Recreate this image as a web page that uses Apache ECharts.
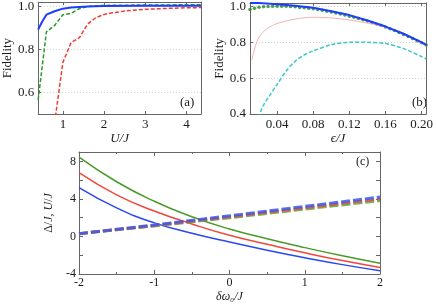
<!DOCTYPE html>
<html><head><meta charset="utf-8">
<script src="https://cdn.jsdelivr.net/npm/echarts@6/dist/echarts.min.js"></script>
<style>html,body{margin:0;padding:0;background:#fff}#c{width:436px;height:304px}</style>
</head><body><div id="c"></div>
<script>
// ---- Panel (a): Fidelity vs U/J ----
const aBlueX  = [0.4, 0.5, 0.6, 0.8, 1.0, 1.2, 1.4, 1.6, 2.0, 3.0, 4.35];
const aBlueY  = [0.893, 0.93, 0.962, 0.978, 0.99, 0.995, 0.998, 1.0, 1.002, 1.003, 1.003];
const aGreenX = [0.4, 0.6, 0.8, 1.0, 1.2, 1.4, 1.6, 1.8, 2.0, 3.0, 4.35];
const aGreenY = [0.565, 0.882, 0.912, 0.962, 0.968, 0.99, 1.0, 1.003, 1.005, 1.007, 1.008];
const aRedX   = [0.8, 1.0, 1.2, 1.4, 1.6, 1.8, 2.0, 2.2, 2.6, 3.0, 3.5, 4.0, 4.35];
const aRedY   = [0.46, 0.74, 0.832, 0.855, 0.918, 0.948, 0.963, 0.971, 0.981, 0.987, 0.991, 0.994, 0.995];
const aXTicks = [1, 2, 3, 4];
const aYLabels = [0.6, 0.8, 1.0];

// ---- Panel (b): Fidelity vs epsilon/J ----
const bBlueX = [0.01, 0.02, 0.04, 0.06, 0.08, 0.10, 0.12, 0.14, 0.16, 0.18, 0.20, 0.205];
const bBlueY = [1.02, 1.019, 1.013, 1.004, 0.993, 0.974, 0.952, 0.922, 0.888, 0.848, 0.8, 0.786];
const bGreenX = [0.010,0.015,0.020,0.025,0.030,0.035,0.040,0.045,0.050,0.055,0.060,0.065,0.070,0.075,0.080,0.085,0.090,0.095,0.100,0.105,0.110,0.115,0.120,0.125,0.130,0.135,0.140,0.145,0.150,0.155,0.160,0.165,0.170,0.175,0.180,0.185,0.190,0.195,0.200,0.205];
const bGreenY = [0.983,0.99,0.996,0.999,1.0,1.002,1.002,1.002,1.001,1.0,0.998,0.995,0.993,0.99,0.987,0.983,0.979,0.974,0.969,0.964,0.958,0.952,0.946,0.94,0.933,0.926,0.919,0.911,0.903,0.895,0.886,0.876,0.866,0.855,0.844,0.833,0.821,0.809,0.797,0.785];
const bPinkX = [0.012, 0.016, 0.02, 0.024, 0.03, 0.04, 0.06, 0.08, 0.10, 0.12, 0.14, 0.16, 0.18, 0.20, 0.205];
const bPinkY = [0.70, 0.78, 0.83, 0.855, 0.88, 0.905, 0.93, 0.94, 0.936, 0.925, 0.907, 0.885, 0.85, 0.795, 0.776];
const bCyanX = [0.019, 0.025, 0.03, 0.04, 0.05, 0.06, 0.07, 0.08, 0.10, 0.12, 0.14, 0.16, 0.18, 0.20, 0.205];
const bCyanY = [0.38, 0.45, 0.49, 0.565, 0.64, 0.694, 0.73, 0.752, 0.787, 0.80, 0.80, 0.793, 0.765, 0.72, 0.708];
const bXTicks = [0.04, 0.08, 0.12, 0.16, 0.20];
const bYLabels = [0.4, 0.6, 0.8, 1.0];

// ---- Panel (c): Delta/J, U/J vs delta omega_0 / J ----
const cX = [-2, -1.5, -1, -0.5, 0, 0.5, 1, 1.5, 2];
const cGreenSolid = [8.45, 5.83, 3.75, 2.1, 0.79, -0.25, -1.19, -2.06, -2.85];
const cRedSolid   = [6.8, 4.44, 2.71, 1.33, 0.12, -0.83, -1.74, -2.57, -3.3];
const cBlueSolid  = [5.21, 3.05, 1.45, 0.35, -0.59, -1.46, -2.26, -3.0, -3.65];
const cXd = [-2, -1, 0, 1, 2];
const cGreenDash = [0.3, 1.12, 2.0, 2.92, 3.82];
const cRedDash   = [0.3, 1.17, 2.1, 3.05, 4.0];
const cBlueDash  = [0.3, 1.22, 2.2, 3.2, 4.2];
const cYTicks = [-4, -2, 0, 2, 4, 6, 8];
const cYLabels = [-4, 0, 4, 8];

const zip = (xs, ys) => xs.map((x, i) => [x, ys[i]]);
const FONT = '"Liberation Serif", "Times New Roman", serif';
const AX = '#666';
const TXT = '#1a1a1a';
const lbl = {fontFamily: FONT, fontSize: 13, color: TXT};
const nameStyle = {fontFamily: FONT, fontSize: 13, color: TXT};

function frameAxis(grid, pos, min, max, extra) {
  return Object.assign({
    type: 'value', gridIndex: grid, position: pos, min: min, max: max,
    axisLine: {show: true, onZero: false, lineStyle: {color: AX, width: 1}},
    axisTick: {show: false},
    axisLabel: {show: false},
    splitLine: {show: false}
  }, extra || {});
}

const option = {
  animation: false,
  backgroundColor: '#fff',
  grid: [
    {left: 32, top: 2, width: 169, height: 112},
    {left: 250, top: 2, width: 185, height: 112},
    {left: 79, top: 152, width: 301, height: 126}
  ],
  xAxis: [
    frameAxis(0, 'bottom', 0.4, 4.35, {
      axisTick: {show: true, inside: true, length: 3, customValues: aXTicks, lineStyle: {color: AX}},
      axisLabel: {show: true, customValues: aXTicks, margin: 4, ...lbl},
      name: 'U/J', nameLocation: 'middle', nameGap: 16,
      nameTextStyle: {...nameStyle, fontStyle: 'italic'}
    }),
    frameAxis(0, 'top', 0.4, 4.35, {
      axisTick: {show: true, inside: true, length: 3, customValues: aXTicks, lineStyle: {color: AX}}
    }),
    frameAxis(1, 'bottom', 0.01, 0.205, {
      axisTick: {show: true, inside: true, length: 3, customValues: bXTicks, lineStyle: {color: AX}},
      axisLabel: {show: true, customValues: bXTicks, margin: 4, formatter: v => v.toFixed(2), ...lbl},
      name: 'ϵ/J', nameLocation: 'middle', nameGap: 16,
      nameTextStyle: {...nameStyle, fontStyle: 'italic'}
    }),
    frameAxis(1, 'top', 0.01, 0.205, {
      axisTick: {show: true, inside: true, length: 3, customValues: bXTicks, lineStyle: {color: AX}}
    }),
    frameAxis(2, 'bottom', -2, 2, {
      interval: 1,
      axisTick: {show: true, inside: true, length: 4, lineStyle: {color: AX}},
      minorTick: {show: true, splitNumber: 2, length: 2, lineStyle: {color: AX}},
      axisLabel: {show: true, margin: 3, ...lbl, fontSize: 12},
      name: 'δω₀/J', nameLocation: 'middle', nameGap: 17,
      nameTextStyle: {...nameStyle, fontSize: 12, fontStyle: 'italic'}
    }),
    frameAxis(2, 'top', -2, 2, {
      interval: 1,
      axisTick: {show: true, inside: true, length: 4, lineStyle: {color: AX}},
      minorTick: {show: true, splitNumber: 2, length: 2, lineStyle: {color: AX}}
    })
  ],
  yAxis: [
    frameAxis(0, 'left', 0.5, 1.02, {
      interval: 0.1,
      axisTick: {show: true, inside: true, length: 3, customValues: aYLabels, lineStyle: {color: AX}},
      axisLabel: {show: true, customValues: aYLabels, margin: 4, formatter: v => v.toFixed(1), ...lbl},
      splitLine: {show: true, lineStyle: {color: '#d0d0d0', type: [1, 2], width: 1}},
      name: 'Fidelity', nameLocation: 'middle', nameGap: 19, nameRotate: 90,
      nameTextStyle: nameStyle
    }),
    frameAxis(0, 'right', 0.5, 1.02, {}),
    frameAxis(1, 'left', 0.4, 1.02, {
      interval: 0.1,
      axisTick: {show: true, inside: true, length: 3, customValues: bYLabels, lineStyle: {color: AX}},
      axisLabel: {show: true, customValues: bYLabels, margin: 4, formatter: v => v.toFixed(1), ...lbl},
      splitLine: {show: true, lineStyle: {color: '#d0d0d0', type: [1, 2], width: 1}},
      name: 'Fidelity', nameLocation: 'middle', nameGap: 23, nameRotate: 90,
      nameTextStyle: nameStyle
    }),
    frameAxis(1, 'right', 0.4, 1.02, {}),
    frameAxis(2, 'left', -4, 9, {
      axisTick: {show: true, inside: true, length: 4, customValues: cYTicks, lineStyle: {color: AX}},
      axisLabel: {show: true, customValues: cYLabels, margin: 3, ...lbl, fontSize: 12},
      name: '{u|Δ}/{i|J}, {i|U}/{i|J}', nameLocation: 'middle', nameGap: 14, nameRotate: 90,
      nameTextStyle: {...nameStyle, fontSize: 12, rich: {
        u: {fontFamily: FONT, fontSize: 12, color: TXT},
        i: {fontFamily: FONT, fontSize: 12, fontStyle: 'italic', color: TXT}
      }}
    }),
    frameAxis(2, 'right', -4, 9, {
      axisTick: {show: true, inside: true, length: 4, customValues: cYTicks, lineStyle: {color: AX}}
    })
  ],
  series: [
    {type: 'line', xAxisIndex: 0, yAxisIndex: 0, data: zip(aRedX, aRedY), symbol: 'none', clip: true,
     lineStyle: {color: '#f03c32', width: 1.5, type: [4, 2]}},
    {type: 'line', xAxisIndex: 0, yAxisIndex: 0, data: zip(aGreenX, aGreenY), symbol: 'none', clip: true,
     lineStyle: {color: '#2a9a2a', width: 1.5, type: [4, 2]}},
    {type: 'line', xAxisIndex: 0, yAxisIndex: 0, data: zip(aBlueX, aBlueY), symbol: 'none', clip: true,
     lineStyle: {color: '#1e3cff', width: 2}},

    {type: 'line', xAxisIndex: 2, yAxisIndex: 2, data: zip(bPinkX, bPinkY), symbol: 'none', clip: true, smooth: 0.3,
     lineStyle: {color: '#f0b4b4', width: 1}},
    {type: 'line', xAxisIndex: 2, yAxisIndex: 2, data: zip(bCyanX, bCyanY), symbol: 'none', clip: true, smooth: 0.3,
     lineStyle: {color: '#3cc8c8', width: 1.5, type: [4, 2]}},
    {type: 'line', xAxisIndex: 2, yAxisIndex: 2, data: zip(bBlueX, bBlueY), symbol: 'none', clip: true,
     lineStyle: {color: '#1e3cff', width: 2}},
    {type: 'scatter', xAxisIndex: 2, yAxisIndex: 2, data: zip(bGreenX, bGreenY), symbol: 'circle', symbolSize: 3.5, clip: true,
     itemStyle: {color: '#1a8a1a'}},

    {type: 'line', xAxisIndex: 4, yAxisIndex: 4, data: zip(cX, cGreenSolid), symbol: 'none', smooth: true,
     lineStyle: {color: '#4a9a2a', width: 1.5}},
    {type: 'line', xAxisIndex: 4, yAxisIndex: 4, data: zip(cX, cRedSolid), symbol: 'none', smooth: true,
     lineStyle: {color: '#f0483a', width: 1.5}},
    {type: 'line', xAxisIndex: 4, yAxisIndex: 4, data: zip(cX, cBlueSolid), symbol: 'none', smooth: true,
     lineStyle: {color: '#2a48f0', width: 1.5}},
    {type: 'line', xAxisIndex: 4, yAxisIndex: 4, data: zip(cXd, cGreenDash), symbol: 'none',
     lineStyle: {color: '#5aa83a', width: 3, type: [9, 3], opacity: 0.85}},
    {type: 'line', xAxisIndex: 4, yAxisIndex: 4, data: zip(cXd, cRedDash), symbol: 'none',
     lineStyle: {color: '#e8503c', width: 3, type: [9, 3], opacity: 0.85}},
    {type: 'line', xAxisIndex: 4, yAxisIndex: 4, data: zip(cXd, cBlueDash), symbol: 'none',
     lineStyle: {color: '#3a5af0', width: 3, type: [9, 3], opacity: 0.85}}
  ],
  graphic: [
    {type: 'text', left: 180, top: 96, style: {text: '(a)', fontFamily: FONT, fontSize: 13, fill: TXT}},
    {type: 'text', left: 412, top: 96, style: {text: '(b)', fontFamily: FONT, fontSize: 13, fill: TXT}},
    {type: 'text', left: 356, top: 156, style: {text: '(c)', fontFamily: FONT, fontSize: 12, fill: TXT}}
  ]
};
echarts.init(document.getElementById('c'), null, {renderer: 'canvas'}).setOption(option);
</script>
</body></html>
